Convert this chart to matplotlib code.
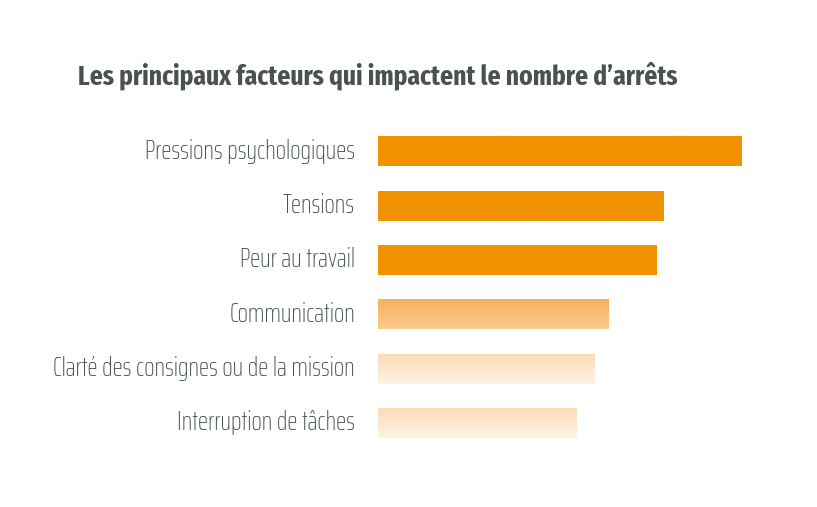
import numpy as np
import matplotlib
matplotlib.use("Agg")
import matplotlib.pyplot as plt
from matplotlib.colors import LinearSegmentedColormap
from matplotlib.transforms import ScaledTranslation

categories = [
    "Pressions psychologiques",
    "Tensions",
    "Peur au travail",
    "Communication",
    "Clarté des consignes ou de la mission",
    "Interruption de tâches",
]
values = [100, 78.3, 76.6, 63.2, 59.6, 54.4]
# (top colour, bottom colour) for each bar
bar_colors = [
    ("#F39200", "#F39200"),
    ("#F39200", "#F39200"),
    ("#F39200", "#F39200"),
    ("#F5B25C", "#FBCB8E"),
    ("#FADCB6", "#FEF2E4"),
    ("#FADCB6", "#FEF2E4"),
]
title = "Les principaux facteurs qui impactent le nombre d\u2019arrêts"

label_font = ['Saira ExtraCondensed', 'Fira Sans Extra Condensed', 'DejaVu Sans']
title_font = ['Fira Sans Extra Condensed', 'Open Sans Condensed', 'DejaVu Sans']
plt.rcParams['font.family'] = label_font

W, H = 817, 507
fig = plt.figure(figsize=(W / 100, H / 100), dpi=100)
ax = fig.add_axes([378 / W, 1 - 450.7 / H, (742 - 378) / W, 326.4 / H])

y = np.arange(len(categories))
bars = ax.barh(y, values, height=0.54, color="none", edgecolor="none")
for b, (c_top, c_bot) in zip(bars, bar_colors):
    x0, y0 = b.get_x(), b.get_y()
    w, h = b.get_width(), b.get_height()
    cmap = LinearSegmentedColormap.from_list("g", [c_top, c_bot])
    grad = np.linspace(0, 1, 64).reshape(-1, 1)
    ax.imshow(grad, cmap=cmap, aspect="auto", extent=(x0, x0 + w, y0 + h, y0),
              interpolation="bilinear", zorder=2)

ax.set_xlim(0, 100)
ax.set_ylim(len(categories) - 0.5, -0.5)
ax.set_yticks(y)
ax.set_yticklabels(categories, fontsize=19.5, color="#3F4B4E", fontweight="light",
                   va="center_baseline")
ax.tick_params(axis="y", length=0, pad=16.5)
# labels sit a touch above the bar centres in the original
shift = ScaledTranslation(0, 0.03, fig.dpi_scale_trans)
for lab in ax.get_yticklabels():
    lab.set_transform(lab.get_transform() + shift)
ax.set_xticks([])
for s in ax.spines.values():
    s.set_visible(False)

fig.text(78 / W, 1 - 76 / H, title, fontsize=19.9, fontweight="bold", family=title_font,
         color="#4A5153", va="center", ha="left")

fig.savefig("out.png", dpi=100)
